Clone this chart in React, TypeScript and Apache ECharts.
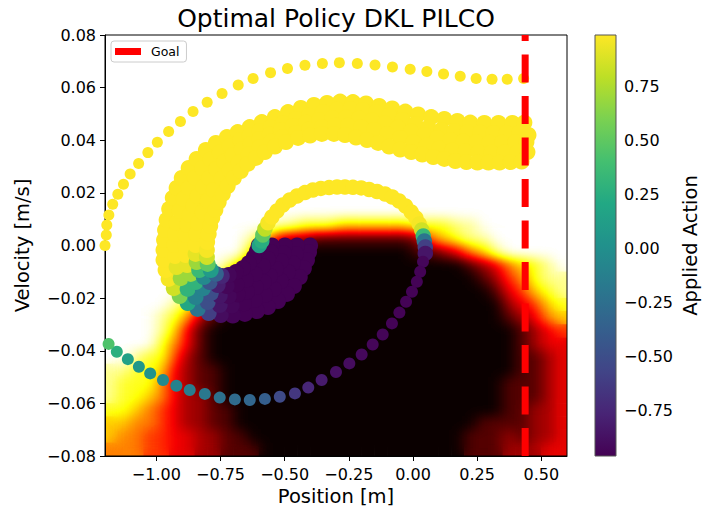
import React, { useEffect, useRef } from "react";
import * as echarts from "echarts";

const FONT = "DejaVu Sans";
const TITLE = "Optimal Policy DKL PILCO";
const X_NAME = "Position [m]";
const Y_NAME = "Velocity [m/s]";
const CB_NAME = "Applied Action";
const GOAL_NAME = "Goal";

const X_MIN = -1.2;
const X_MAX = 0.6;
const V_MIN = -0.08;
const V_MAX = 0.08;
const V_STEP = 0.02;
const X_TICKS = [-1.0, -0.75, -0.5, -0.25, 0.0, 0.25, 0.5];
const CB_MIN = -0.96;
const CB_MAX = 0.99;
const CB_TICKS = [-0.75, -0.5, -0.25, 0.0, 0.25, 0.5, 0.75];
const GOAL_X = 0.437;

// Policy background: rows from v=0.08 (top) down to v=-0.08, 0.005 per row;
// 36 columns of 0.05 from x=-1.2; each digit d is the level d/9 of the "hot" colour map.
const POLICY_ROWS = [
  "999999999999999999999999999999999999",
  "999999999999999999999999999999999999",
  "999999999999999999999999999999999999",
  "999999999999999999999999999999999999",
  "999999999999999999999999999999999999",
  "999999999999999999999999999999999999",
  "999999999999999999999999999999999999",
  "999999999999999999999999999999999999",
  "999999999999999999999999999999999999",
  "999999999999999999999999999999999999",
  "999999999999999999999999999999999999",
  "999999999999999999999999999999999999",
  "999999999999999999999999999999999999",
  "999999999999999999999999999999999999",
  "999999999999988777666666777889999999",
  "999999999998632211111111256788999999",
  "999999999996310000000000112356899999",
  "999999999863100000000000000012356789",
  "999999998520000000000000000001245788",
  "999999863100000000000000000000134678",
  "999998752000000000000000000000023467",
  "999987521000000000000000000000012356",
  "999986310000000000000000000000001234",
  "999975310000000000000000000000001233",
  "998774210000000000000000000000001123",
  "887763211000000000000000000000001123",
  "877753211000000000000000000000011123",
  "877653221000000000000000000000011123",
  "776543221100000000000000000000011223",
  "665543221100000000000000000001111223",
  "655443322110000000000000000011121223",
  "555443322111000000000000000011122233",
];

// Rollouts: [position, velocity, applied action]
const FAN_0 = [
  [-0.401, 0.0, -0.96], [-0.405, -0.0025, -0.96], [-0.413, -0.0055, -0.96], [-0.425, -0.0086, -0.96],
  [-0.441, -0.012, -0.96], [-0.464, -0.0154, -0.96], [-0.491, -0.0184, -0.96], [-0.526, -0.0211, -0.96],
  [-0.565, -0.0234, -0.96], [-0.608, -0.0249, -0.96], [-0.655, -0.026, -0.96], [-0.702, -0.0266, -0.95],
  [-0.749, -0.0264, -0.9], [-0.796, -0.0257, -0.6], [-0.839, -0.0241, -0.2], [-0.878, -0.0219, 0.2],
  [-0.909, -0.0192, 0.6], [-0.932, -0.0162, 0.85], [-0.952, -0.0127, 0.97], [-0.964, -0.0093, 0.99],
  [-0.972, -0.0055, 0.99], [-0.972, -0.0017, 0.99], [-0.97, 0.0021, 0.99], [-0.966, 0.0059, 0.99],
  [-0.96, 0.0097, 0.99], [-0.95, 0.0139, 0.99], [-0.936, 0.0181, 0.99], [-0.921, 0.0219, 0.99],
  [-0.901, 0.0257, 0.99], [-0.874, 0.0295, 0.99], [-0.843, 0.0329, 0.99], [-0.807, 0.0363, 0.99],
  [-0.768, 0.039, 0.99], [-0.725, 0.0412, 0.99], [-0.683, 0.0431, 0.99], [-0.636, 0.045, 0.99],
  [-0.589, 0.0469, 0.99], [-0.538, 0.0488, 0.99], [-0.487, 0.0507, 0.99], [-0.437, 0.0523, 0.99],
  [-0.386, 0.0534, 0.99], [-0.335, 0.0542, 0.99], [-0.284, 0.0547, 0.99], [-0.234, 0.0545, 0.99],
  [-0.183, 0.054, 0.99], [-0.132, 0.053, 0.99], [-0.081, 0.0521, 0.99], [-0.03, 0.0509, 0.99],
  [0.02, 0.0498, 0.99], [0.071, 0.0488, 0.99], [0.122, 0.0481, 0.99], [0.173, 0.0473, 0.99],
  [0.223, 0.0467, 0.99], [0.278, 0.0466, 0.99], [0.333, 0.0466, 0.99], [0.387, 0.0466, 0.99],
  [0.434, 0.0467, 0.99],
];
const FAN_1 = [
  [-0.452, 0.0, -0.96], [-0.456, -0.0032, -0.96], [-0.468, -0.0067, -0.96], [-0.487, -0.0101, -0.96],
  [-0.515, -0.0135, -0.96], [-0.542, -0.0165, -0.96], [-0.577, -0.0188, -0.96], [-0.616, -0.0207, -0.96],
  [-0.659, -0.022, -0.96], [-0.706, -0.0228, -0.93], [-0.753, -0.0226, -0.85], [-0.8, -0.0215, -0.5],
  [-0.847, -0.0196, -0.1], [-0.878, -0.0165, 0.3], [-0.905, -0.0124, 0.7], [-0.921, -0.0082, 0.92],
  [-0.927, -0.004, 0.99], [-0.929, 0.0002, 0.99], [-0.927, 0.0044, 0.99], [-0.921, 0.0086, 0.99],
  [-0.909, 0.0131, 0.99], [-0.893, 0.0177, 0.99], [-0.874, 0.0219, 0.99], [-0.85, 0.0258, 0.99],
  [-0.821, 0.0295, 0.99], [-0.788, 0.0327, 0.99], [-0.753, 0.0353, 0.99], [-0.714, 0.0378, 0.99],
  [-0.673, 0.0401, 0.99], [-0.636, 0.0418, 0.99], [-0.597, 0.0435, 0.99], [-0.554, 0.045, 0.99],
  [-0.507, 0.0466, 0.99], [-0.456, 0.0481, 0.99], [-0.405, 0.0494, 0.99], [-0.351, 0.0507, 0.99],
  [-0.296, 0.0517, 0.99], [-0.245, 0.0519, 0.99], [-0.195, 0.0515, 0.99], [-0.144, 0.0507, 0.99],
  [-0.093, 0.0494, 0.99], [-0.042, 0.0477, 0.99], [0.009, 0.0462, 0.99], [0.059, 0.0448, 0.99],
  [0.11, 0.0439, 0.99], [0.161, 0.0435, 0.99], [0.212, 0.0431, 0.99], [0.262, 0.0429, 0.99],
  [0.313, 0.0428, 0.99], [0.364, 0.0428, 0.99], [0.415, 0.0429, 0.99], [0.45, 0.042, 0.99],
];
const FAN_2 = [
  [-0.499, 0.0, -0.96], [-0.503, -0.0029, -0.96], [-0.515, -0.0059, -0.96], [-0.534, -0.0089, -0.96],
  [-0.558, -0.0116, -0.96], [-0.581, -0.0139, -0.96], [-0.612, -0.0158, -0.96], [-0.647, -0.0175, -0.96],
  [-0.683, -0.0186, -0.96], [-0.718, -0.0192, -0.93], [-0.753, -0.019, -0.85], [-0.788, -0.0181, -0.5],
  [-0.819, -0.0163, -0.1], [-0.847, -0.0139, 0.3], [-0.866, -0.0108, 0.7], [-0.88, -0.0074, 0.92],
  [-0.886, -0.0036, 0.99], [-0.888, 0.0002, 0.99], [-0.886, 0.004, 0.99], [-0.88, 0.0078, 0.99],
  [-0.87, 0.0116, 0.99], [-0.856, 0.0152, 0.99], [-0.839, 0.0188, 0.99], [-0.817, 0.0222, 0.99],
  [-0.794, 0.0257, 0.99], [-0.767, 0.0291, 0.99], [-0.735, 0.0319, 0.99], [-0.702, 0.0344, 0.99],
  [-0.667, 0.0365, 0.99], [-0.632, 0.0386, 0.99], [-0.597, 0.0405, 0.99], [-0.558, 0.0422, 0.99],
  [-0.515, 0.0439, 0.99], [-0.468, 0.0454, 0.99], [-0.417, 0.0467, 0.99], [-0.366, 0.0477, 0.99],
  [-0.314, 0.0485, 0.99], [-0.261, 0.0486, 0.99], [-0.21, 0.0483, 0.99], [-0.159, 0.0475, 0.99],
  [-0.109, 0.0464, 0.99], [-0.058, 0.0448, 0.99], [-0.007, 0.0433, 0.99], [0.044, 0.042, 0.99],
  [0.095, 0.0409, 0.99], [0.145, 0.0401, 0.99], [0.196, 0.0395, 0.99], [0.247, 0.0393, 0.99],
  [0.298, 0.0391, 0.99], [0.348, 0.0391, 0.99], [0.399, 0.0393, 0.99], [0.442, 0.0393, 0.99],
];
const FAN_3 = [
  [-0.55, 0.0, -0.96], [-0.554, -0.0025, -0.96], [-0.565, -0.0051, -0.96], [-0.585, -0.0078, -0.96],
  [-0.616, -0.0108, -0.96], [-0.651, -0.0131, -0.96], [-0.688, -0.0148, -0.96], [-0.726, -0.0154, -0.93],
  [-0.761, -0.015, -0.8], [-0.792, -0.0139, -0.45], [-0.815, -0.012, -0.05], [-0.833, -0.0093, 0.35],
  [-0.843, -0.0063, 0.7], [-0.847, -0.0032, 0.92], [-0.847, 0.0002, 0.99], [-0.845, 0.0044, 0.99],
  [-0.837, 0.0086, 0.99], [-0.819, 0.0127, 0.99], [-0.8, 0.0169, 0.99], [-0.776, 0.0211, 0.99],
  [-0.745, 0.0255, 0.99], [-0.714, 0.0287, 0.99], [-0.679, 0.0315, 0.99], [-0.64, 0.0346, 0.99],
  [-0.597, 0.0374, 0.99], [-0.554, 0.0395, 0.99], [-0.507, 0.0412, 0.99], [-0.456, 0.0428, 0.99],
  [-0.405, 0.0441, 0.99], [-0.355, 0.045, 0.99], [-0.304, 0.0456, 0.99], [-0.253, 0.0456, 0.99],
  [-0.202, 0.045, 0.99], [-0.152, 0.0439, 0.99], [-0.101, 0.0424, 0.99], [-0.05, 0.0409, 0.99],
  [0.001, 0.0393, 0.99], [0.052, 0.038, 0.99], [0.102, 0.0369, 0.99], [0.153, 0.0361, 0.99],
  [0.204, 0.0357, 0.99], [0.255, 0.0355, 0.99], [0.306, 0.0353, 0.99], [0.356, 0.0353, 0.99],
  [0.407, 0.0355, 0.99], [0.446, 0.0355, 0.99],
];
const FAN_4 = [
  [-0.601, 0.0, -0.96], [-0.608, -0.0021, -0.96], [-0.62, -0.0044, -0.96], [-0.64, -0.0067, -0.96],
  [-0.663, -0.0086, -0.96], [-0.69, -0.0101, -0.96], [-0.718, -0.0112, -0.93], [-0.745, -0.0116, -0.75],
  [-0.768, -0.0108, -0.35], [-0.788, -0.0093, 0.1], [-0.8, -0.007, 0.5], [-0.803, -0.0044, 0.85],
  [-0.803, -0.0017, 0.97], [-0.802, 0.0013, 0.99], [-0.796, 0.0044, 0.99], [-0.79, 0.0074, 0.99],
  [-0.782, 0.0105, 0.99], [-0.77, 0.0135, 0.99], [-0.757, 0.0165, 0.99], [-0.741, 0.0196, 0.99],
  [-0.722, 0.0226, 0.99], [-0.698, 0.0257, 0.99], [-0.671, 0.0283, 0.99], [-0.644, 0.031, 0.99],
  [-0.612, 0.0333, 0.99], [-0.577, 0.0355, 0.99], [-0.538, 0.0376, 0.99], [-0.495, 0.0393, 0.99],
  [-0.448, 0.0409, 0.99], [-0.401, 0.0418, 0.99], [-0.355, 0.0424, 0.99], [-0.308, 0.0424, 0.99],
  [-0.265, 0.042, 0.99], [-0.222, 0.041, 0.99], [-0.179, 0.0401, 0.99], [-0.136, 0.039, 0.99],
  [-0.093, 0.0376, 0.99], [-0.05, 0.0365, 0.99], [-0.007, 0.0355, 0.99], [0.036, 0.0346, 0.99],
  [0.079, 0.0336, 0.99], [0.122, 0.0329, 0.99], [0.165, 0.0321, 0.99], [0.208, 0.0317, 0.99],
  [0.251, 0.0315, 0.99], [0.294, 0.0315, 0.99], [0.337, 0.0315, 0.99], [0.38, 0.0317, 0.99],
  [0.423, 0.0319, 0.99],
];
const ARC = [
  [-0.599, 0.0, 0.15], [-0.589, 0.0017, 0.25], [-0.585, 0.004, 0.5], [-0.577, 0.0063, 0.8],
  [-0.565, 0.0086, 0.97], [-0.55, 0.0108, 0.99], [-0.53, 0.0131, 0.99], [-0.507, 0.0154, 0.99],
  [-0.48, 0.0173, 0.99], [-0.452, 0.0188, 0.99], [-0.421, 0.0201, 0.99], [-0.39, 0.0211, 0.99],
  [-0.359, 0.0217, 0.99], [-0.327, 0.022, 0.99], [-0.296, 0.0222, 0.99], [-0.265, 0.0222, 0.99],
  [-0.234, 0.0221, 0.99], [-0.202, 0.0219, 0.99], [-0.171, 0.0213, 0.99], [-0.14, 0.0205, 0.99],
  [-0.109, 0.0196, 0.99], [-0.081, 0.0184, 0.99], [-0.054, 0.0169, 0.99], [-0.029, 0.015, 0.99],
  [-0.007, 0.0127, 0.99], [0.011, 0.0105, 0.99], [0.024, 0.0082, 0.97], [0.034, 0.0059, 0.85],
  [0.04, 0.0036, 0.35], [0.044, 0.0017, -0.2], [0.048, -0.0006, -0.6], [0.048, -0.003, -0.85],
];
const DESCENT = [
  [0.039, -0.0062, -0.93], [0.028, -0.01, -0.95], [0.015, -0.0138, -0.95], [-0.004, -0.0176, -0.95],
  [-0.027, -0.0214, -0.95], [-0.053, -0.0255, -0.95], [-0.082, -0.0296, -0.95], [-0.118, -0.0338, -0.94],
  [-0.157, -0.0376, -0.93], [-0.2, -0.0414, -0.92], [-0.248, -0.0448, -0.9], [-0.3, -0.0481, -0.88],
  [-0.356, -0.0511, -0.82], [-0.408, -0.054, -0.75], [-0.46, -0.0562, -0.65], [-0.519, -0.0575, -0.53],
  [-0.577, -0.0583, -0.38], [-0.636, -0.0587, -0.32], [-0.694, -0.0585, -0.28], [-0.753, -0.0578, -0.24],
  [-0.811, -0.0564, -0.18], [-0.87, -0.0549, -0.14], [-0.922, -0.0533, -0.1], [-0.974, -0.0511, -0.04],
  [-1.024, -0.0486, 0.03], [-1.068, -0.0461, 0.07], [-1.111, -0.0432, 0.15], [-1.154, -0.0404, 0.27],
  [-1.186, -0.0374, 0.44],
];
const OUTER = [
  [-1.2, 0.0, 0.99], [-1.195, 0.004, 0.99], [-1.193, 0.0078, 0.99], [-1.185, 0.0116, 0.99],
  [-1.17, 0.0157, 0.99], [-1.15, 0.0195, 0.99], [-1.128, 0.0233, 0.99], [-1.102, 0.0272, 0.99],
  [-1.069, 0.0312, 0.99], [-1.033, 0.0353, 0.99], [-0.996, 0.0392, 0.99], [-0.952, 0.0433, 0.99],
  [-0.906, 0.0471, 0.99], [-0.857, 0.0509, 0.99], [-0.802, 0.0544, 0.99], [-0.744, 0.0578, 0.99],
  [-0.681, 0.061, 0.99], [-0.623, 0.0635, 0.99], [-0.555, 0.0657, 0.99], [-0.489, 0.0673, 0.99],
  [-0.421, 0.0685, 0.99], [-0.353, 0.0692, 0.99], [-0.287, 0.0695, 0.99], [-0.217, 0.0692, 0.99],
  [-0.148, 0.0686, 0.99], [-0.08, 0.0678, 0.99], [-0.011, 0.067, 0.99], [0.054, 0.0661, 0.99],
  [0.119, 0.0652, 0.99], [0.184, 0.0643, 0.99], [0.246, 0.0635, 0.99], [0.308, 0.0632, 0.99],
  [0.367, 0.0632, 0.99], [0.431, 0.0635, 0.99],
];

// Colour maps
const HOT = ["#0b0000", "#4e0000", "#910000", "#d30000", "#ff1700", "#ff5a00", "#ff9d00", "#ffe000", "#ffff36", "#ffff9b", "#ffffff"];
// "hot" channels sampled at t = 0, 0.05, ..., 1 (used to colour the smoothed grey field)
const HOT_R = [0.0416, 0.1729, 0.3041, 0.4354, 0.5666, 0.6979, 0.8292, 0.9604, 1, 1, 1, 1, 1, 1, 1, 1, 1, 1, 1, 1, 1];
const HOT_G = [0, 0, 0, 0, 0, 0, 0, 0, 0.0917, 0.2229, 0.3542, 0.4854, 0.6167, 0.7479, 0.8792, 1, 1, 1, 1, 1, 1];
const HOT_B = [0, 0, 0, 0, 0, 0, 0, 0, 0, 0, 0, 0, 0, 0, 0, 0.0156, 0.2125, 0.4094, 0.6063, 0.8031, 1];
const VIRIDIS = ["#440154", "#482475", "#414487", "#355f8d", "#2a788e", "#21918c", "#22a884", "#44bf70", "#7ad151", "#bddf26", "#fde725"];

const PLOT = { left: 105, top: 35, width: 462, height: 421 };
const CBAR = { left: 595, top: 35, width: 21, height: 421 };

const fmt = (v: number) => {
  if (Math.abs(v) < 1e-9) return "0.00";
  return (v < 0 ? "\u2212" : "") + Math.abs(v).toFixed(2);
};

function heatOption(colors: string[]) {
  const nRows = POLICY_ROWS.length;
  const nCols = POLICY_ROWS[0].length;
  const data: number[][] = [];
  POLICY_ROWS.forEach((row, r) => {
    for (let c = 0; c < nCols; c++) {
      const d = Number(row[c] ?? row[row.length - 1]);
      data.push([c, nRows - 1 - r, d / 9]);
    }
  });
  return {
    animation: false,
    backgroundColor: "transparent",
    grid: { left: 0, right: 0, top: 0, bottom: 0 },
    xAxis: { type: "category", data: Array.from({ length: nCols }, (_, i) => String(i)), show: false },
    yAxis: { type: "category", data: Array.from({ length: nRows }, (_, i) => String(i)), show: false },
    visualMap: { type: "continuous", show: false, min: 0, max: 1, dimension: 2, inRange: { color: colors } },
    series: [
      {
        type: "heatmap",
        data,
        silent: true,
        itemStyle: { borderWidth: 0 },
        emphasis: { disabled: true },
      },
    ],
  };
}

function mainOption() {
  const gradStops = VIRIDIS.map((c, i) => ({ offset: 1 - i / (VIRIDIS.length - 1), color: c })).reverse();
  const scatter = (data: number[][], size: number) => ({
    type: "scatter",
    xAxisIndex: 0,
    yAxisIndex: 0,
    data,
    symbolSize: size,
    silent: true,
    itemStyle: { opacity: 1 },
    emphasis: { disabled: true },
    z: 2,
  });
  return {
    animation: false,
    backgroundColor: "transparent",
    textStyle: { fontFamily: FONT },
    graphic: [
      {
        type: "text",
        x: PLOT.left + PLOT.width / 2,
        y: 18,
        style: { text: TITLE, fontFamily: FONT, fontSize: 25, fill: "#000", textAlign: "center", textVerticalAlign: "middle" },
      },
    ],
    legend: {
      data: [GOAL_NAME],
      left: 111,
      top: 41,
      orient: "vertical",
      icon: "rect",
      itemWidth: 26,
      itemHeight: 7,
      padding: [4, 7, 4, 4],
      borderColor: "#cccccc",
      borderWidth: 1,
      borderRadius: 3,
      backgroundColor: "rgba(255,255,255,0.8)",
      selectedMode: false,
      itemStyle: { borderWidth: 0 },
      textStyle: { fontFamily: FONT, fontSize: 12.5, color: "#000", padding: [0, 0, 0, 5] },
    },
    grid: [
      { ...PLOT, show: true, borderColor: "#000", borderWidth: 1, backgroundColor: "transparent", containLabel: false },
      { ...CBAR, containLabel: false },
    ],
    xAxis: [
      {
        type: "value",
        gridIndex: 0,
        min: X_MIN,
        max: X_MAX,
        name: X_NAME,
        nameLocation: "middle",
        nameGap: 27,
        nameTextStyle: { fontFamily: FONT, fontSize: 19.5, color: "#000" },
        axisLine: { show: true, onZero: false, lineStyle: { color: "#000", width: 1 } },
        axisTick: { show: true, customValues: X_TICKS, length: 5, lineStyle: { color: "#000" } },
        axisLabel: { customValues: X_TICKS, formatter: fmt, fontFamily: FONT, fontSize: 16, color: "#000", margin: 10 },
        splitLine: { show: false },
      },
      { type: "value", gridIndex: 1, min: 0, max: 1, show: false },
    ],
    yAxis: [
      {
        type: "value",
        gridIndex: 0,
        min: V_MIN,
        max: V_MAX,
        interval: V_STEP,
        name: Y_NAME,
        nameLocation: "middle",
        nameGap: 73,
        nameTextStyle: { fontFamily: FONT, fontSize: 19.5, color: "#000" },
        axisLine: { show: true, onZero: false, lineStyle: { color: "#000", width: 1 } },
        axisTick: { show: true, length: 5, lineStyle: { color: "#000" } },
        axisLabel: { formatter: fmt, fontFamily: FONT, fontSize: 16, color: "#000", margin: 9 },
        splitLine: { show: false },
      },
      {
        type: "value",
        gridIndex: 1,
        min: CB_MIN,
        max: CB_MAX,
        position: "right",
        name: CB_NAME,
        nameLocation: "middle",
        nameRotate: 90,
        nameGap: 64,
        nameTextStyle: { fontFamily: FONT, fontSize: 19.5, color: "#000" },
        axisLine: { show: false },
        axisTick: { show: true, customValues: CB_TICKS, length: 5, lineStyle: { color: "#000" } },
        axisLabel: { customValues: CB_TICKS, formatter: fmt, fontFamily: FONT, fontSize: 16, color: "#000", margin: 8 },
        splitLine: { show: false },
      },
    ],
    visualMap: {
      type: "continuous",
      show: false,
      min: CB_MIN,
      max: CB_MAX,
      dimension: 2,
      seriesIndex: [0, 1, 2, 3, 4, 5, 6, 7],
      inRange: { color: VIRIDIS },
    },
    series: [
      scatter(FAN_0, 16),
      scatter(FAN_1, 16),
      scatter(FAN_2, 16),
      scatter(FAN_3, 16),
      scatter(FAN_4, 16),
      scatter(ARC, 15.5),
      scatter(DESCENT, 12),
      scatter(OUTER, 11),
      {
        type: "custom",
        xAxisIndex: 1,
        yAxisIndex: 1,
        silent: true,
        data: [[0, CB_MIN, 1, CB_MAX]],
        renderItem: (_params: any, api: any) => {
          const p0 = api.coord([api.value(0), api.value(3)]);
          const p1 = api.coord([api.value(2), api.value(1)]);
          return {
            type: "rect",
            shape: { x: p0[0], y: p0[1], width: p1[0] - p0[0], height: p1[1] - p0[1] },
            style: {
              fill: { type: "linear", x: 0, y: 0, x2: 0, y2: 1, colorStops: gradStops },
              stroke: "#555",
              lineWidth: 1,
            },
          };
        },
      },
      {
        type: "line",
        name: GOAL_NAME,
        xAxisIndex: 0,
        yAxisIndex: 0,
        data: [
          [GOAL_X, V_MIN],
          [GOAL_X, V_MAX],
        ],
        symbol: "none",
        silent: true,
        color: "#ff0000",
        itemStyle: { color: "#ff0000" },
        lineStyle: { color: "#ff0000", width: 7, type: [28, 13.5] },
        z: 4,
      },
    ],
  };
}

export default function App() {
  const mainRef = useRef<HTMLDivElement>(null);
  const bgRef = useRef<HTMLDivElement>(null);
  const bgBlurRef = useRef<HTMLDivElement>(null);

  useEffect(() => {
    const charts: any[] = [];
    if (bgRef.current) {
      const c = echarts.init(bgRef.current, undefined, { renderer: "svg" });
      c.setOption(heatOption(HOT) as any);
      charts.push(c);
    }
    if (bgBlurRef.current) {
      const c = echarts.init(bgBlurRef.current, undefined, { renderer: "svg" });
      c.setOption(heatOption(["#000000", "#ffffff"]) as any);
      charts.push(c);
    }
    if (mainRef.current) {
      const c = echarts.init(mainRef.current, undefined, { renderer: "svg" });
      c.setOption(mainOption() as any);
      charts.push(c);
    }
    return () => charts.forEach((c) => c.dispose());
  }, []);

  return (
    <div style={{ position: "absolute", left: 0, top: 0, width: 702, height: 512, background: "#fff", overflow: "hidden" }}>
      <svg width="0" height="0" style={{ position: "absolute", left: 0, top: 0 }}>
        <defs>
          <filter id="policyHot" x="0" y="0" width="1" height="1" colorInterpolationFilters="sRGB">
            <feGaussianBlur stdDeviation="7.5 6" edgeMode="duplicate" />
            <feComponentTransfer>
              <feFuncR type="table" tableValues={HOT_R.join(" ")} />
              <feFuncG type="table" tableValues={HOT_G.join(" ")} />
              <feFuncB type="table" tableValues={HOT_B.join(" ")} />
            </feComponentTransfer>
          </filter>
        </defs>
      </svg>
      <div
        style={{
          position: "absolute",
          left: PLOT.left,
          top: PLOT.top,
          width: PLOT.width,
          height: PLOT.height,
          overflow: "hidden",
        }}
      >
        <div ref={bgRef} style={{ position: "absolute", left: 0, top: 0, width: PLOT.width, height: PLOT.height }} />
        <div
          ref={bgBlurRef}
          style={{
            position: "absolute",
            left: 0,
            top: 0,
            width: PLOT.width,
            height: PLOT.height,
            filter: "url(#policyHot)",
          }}
        />
      </div>
      <div ref={mainRef} style={{ position: "absolute", left: 0, top: 0, width: 702, height: 512 }} />
    </div>
  );
}
